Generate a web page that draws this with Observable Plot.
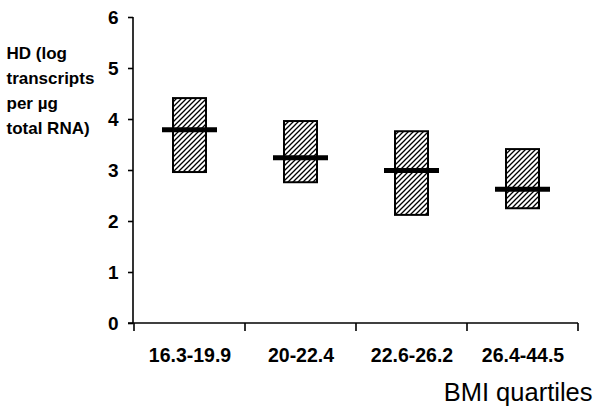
<!DOCTYPE html>
<html>
<head>
<meta charset="utf-8">
<script src="https://cdn.jsdelivr.net/npm/d3@7"></script>
<script src="https://cdn.jsdelivr.net/npm/@observablehq/plot@0.6"></script>
<style>
  html, body { margin: 0; padding: 0; background: white; }
</style>
</head>
<body>
<div id="chart"></div>
<script>
const categories = ["16.3-19.9", "20-22.4", "22.6-26.2", "26.4-44.5"];
const lower  = [2.96, 2.76, 2.12, 2.25];
const upper  = [4.41, 3.96, 3.76, 3.41];
const median = [3.80, 3.25, 3.00, 2.63];
const yTicks = [0, 1, 2, 3, 4, 5, 6];
const xTitle = "BMI quartiles";
const yTitle = "HD (log\ntranscripts\nper µg\ntotal RNA)";

const data = categories.map((c, i) => ({c, lo: lower[i], hi: upper[i], med: median[i]}));

const FONT = "'Liberation Sans', Arial, Helvetica, sans-serif";

const defsMark = () => {
  const g = d3.create("svg:g");
  const p = g.append("defs").append("pattern")
    .attr("id", "hatch")
    .attr("patternUnits", "userSpaceOnUse")
    .attr("width", 5).attr("height", 5);
  p.append("rect").attr("width", 5).attr("height", 5).attr("fill", "white");
  p.append("path")
    .attr("d", "M-1,1 L1,-1 M0,5 L5,0 M4,6 L6,4")
    .attr("stroke", "black").attr("stroke-width", 1.3);
  return g.node();
};

const axisLines = (index, scales, values, dims) => {
  const x = scales.x, y = scales.y;
  const bw = x.bandwidth();
  const g = d3.create("svg:g").attr("stroke", "black").attr("stroke-width", 1.6);
  const left = dims.marginLeft, right = dims.width - dims.marginRight;
  g.append("line").attr("x1", left).attr("x2", left).attr("y1", y(6)).attr("y2", y(0));
  g.append("line").attr("x1", left - 5).attr("x2", right).attr("y1", y(0)).attr("y2", y(0));
  const bounds = categories.map(c => x(c)).concat([x(categories[categories.length - 1]) + bw]);
  for (const bx of bounds) {
    g.append("line").attr("x1", bx).attr("x2", bx).attr("y1", y(0)).attr("y2", y(0) + 8);
  }
  return g.node();
};

const chart = Plot.plot({
  width: 602,
  height: 415,
  marginLeft: 133,
  marginRight: 24,
  marginTop: 17,
  marginBottom: 92,
  style: {fontFamily: FONT, color: "black", background: "white", overflow: "visible"},
  x: {domain: categories, padding: 0, label: null},
  y: {domain: [0, 6], label: null},
  marks: [
    defsMark,
    Plot.barY(data, {x: "c", y1: "lo", y2: "hi", fill: "url(#hatch)", stroke: "black", strokeWidth: 2, insetLeft: 39, insetRight: 39}),
    Plot.tickY(data, {x: "c", y: "med", stroke: "black", strokeWidth: 5, insetLeft: 28, insetRight: 28}),
    Plot.axisY({ticks: yTicks, tickSize: 5, tickPadding: 10, fontSize: 19, fontWeight: "bold", strokeWidth: 1.6, label: null, tickFormat: d => String(d)}),
    Plot.axisX({tickSize: 0, tickPadding: 25, fontSize: 19.5, fontWeight: "bold", label: null}),
    axisLines,
    Plot.text([xTitle], {text: d => d, frameAnchor: "bottom-right", textAnchor: "end", lineAnchor: "middle", dx: 14, dy: 69, fontSize: 25.5, fill: "black"}),
    Plot.text([yTitle], {text: d => d, frameAnchor: "top-left", textAnchor: "start", lineAnchor: "top", dx: -127, dy: 24, fontSize: 17, fontWeight: "bold", lineHeight: 1.47, fill: "black"})
  ]
});

document.getElementById("chart").appendChild(chart);
</script>
</body>
</html>
